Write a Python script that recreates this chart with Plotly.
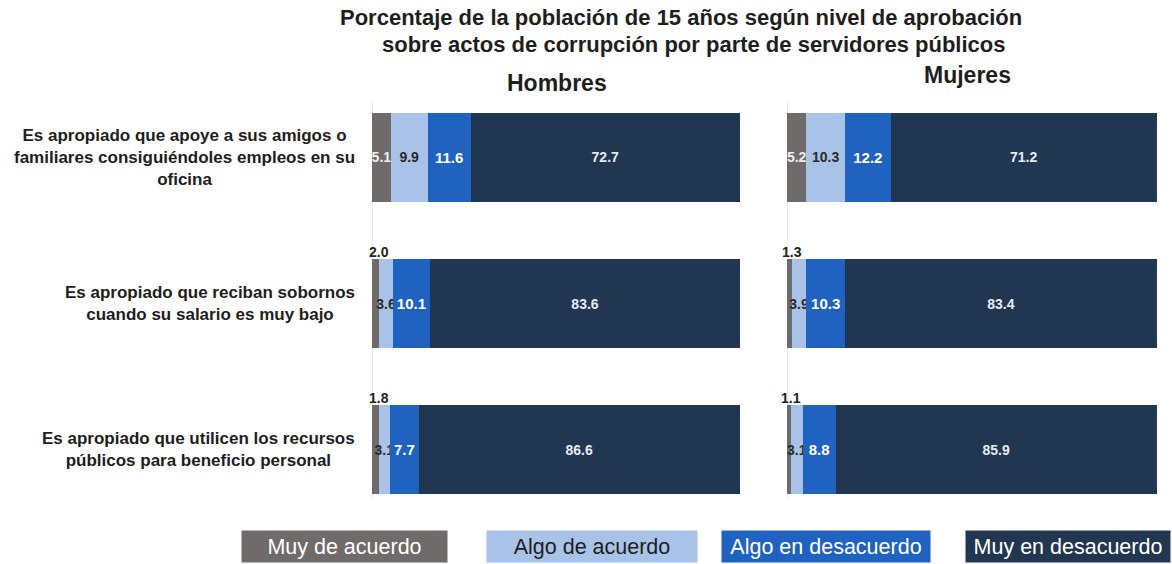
import plotly.graph_objects as go

# ---------------- data ----------------
categories = [
    "Es apropiado que apoye a sus amigos o<br>familiares consiguiéndoles empleos en su<br>oficina",
    "Es apropiado que reciban sobornos<br>cuando su salario es muy bajo",
    "Es apropiado que utilicen los recursos<br>públicos para beneficio personal",
]
levels = ["Muy de acuerdo", "Algo de acuerdo", "Algo en desacuerdo", "Muy en desacuerdo"]

hombres_muy_acuerdo = [5.1, 2.0, 1.8]
hombres_algo_acuerdo = [9.9, 3.6, 3.1]
hombres_algo_desacuerdo = [11.6, 10.1, 7.7]
hombres_muy_desacuerdo = [72.7, 83.6, 86.6]

mujeres_muy_acuerdo = [5.2, 1.3, 1.1]
mujeres_algo_acuerdo = [10.3, 3.9, 3.1]
mujeres_algo_desacuerdo = [12.2, 10.3, 8.8]
mujeres_muy_desacuerdo = [71.2, 83.4, 85.9]

title_lines = [
    "Porcentaje de la población de 15 años según nivel de aprobación",
    "sobre actos de corrupción por parte de servidores públicos",
]
panel_titles = ["Hombres", "Mujeres"]

# ---------------- style ----------------
colors = ["#6f6b6b", "#a9c3e8", "#1f62bf", "#213650"]
label_colors = ["#eeeeee", "#2a2a2a", "#ffffff", "#e6ecf4"]
label_sizes = [14, 14, 15, 14]
FONT = "Liberation Sans, Arial, sans-serif"
W, H = 1172, 564
SMALL = 2.5  # values below this are labelled above the bar

fig = go.Figure()

panels = [
    ("x", [hombres_muy_acuerdo, hombres_algo_acuerdo, hombres_algo_desacuerdo, hombres_muy_desacuerdo]),
    ("x2", [mujeres_muy_acuerdo, mujeres_algo_acuerdo, mujeres_algo_desacuerdo, mujeres_muy_desacuerdo]),
]

annotations = []
for xa, series in panels:
    for i, vals in enumerate(series):
        if i == 0:
            texts = [f"{v:.1f}" if v >= SMALL else "" for v in vals]
        else:
            texts = [f"{v:.1f}" for v in vals]
        fig.add_trace(go.Bar(
            x=vals, y=categories, orientation="h", name=levels[i],
            xaxis=xa, yaxis="y", marker=dict(color=colors[i], line=dict(width=0)),
            width=0.61, text=texts, textposition="inside", insidetextanchor="middle",
            constraintext="none", textangle=0,
            textfont=dict(family=FONT, size=label_sizes[i], color=label_colors[i], weight="bold"),
            showlegend=False, hoverinfo="skip",
        ))
    # small values above the bar
    for cat, v in zip(categories, series[0]):
        if v < SMALL:
            annotations.append(dict(
                x=v, y=cat, xref=xa, yref="y", text=f"{v:.1f}", showarrow=False,
                xanchor="center", yanchor="bottom", yshift=42,
                font=dict(family=FONT, size=14, color="#222222", weight="bold"),
            ))

# row labels
for cat in categories:
    annotations.append(dict(
        x=357 / W, y=cat, xref="paper", yref="y", text=cat, showarrow=False,
        xanchor="right", yanchor="middle", align="center",
        font=dict(family=FONT, size=17, color="#1e1e1e", weight="bold"),
    ))

# title
for txt, (cx, cy) in zip(title_lines, [(681, 18), (694, 45)]):
    annotations.append(dict(
        x=cx / W, y=1 - cy / H, xref="paper", yref="paper", text=txt, showarrow=False,
        xanchor="center", yanchor="middle",
        font=dict(family=FONT, size=22, color="#1e1e1e", weight="bold"),
    ))
for txt, (cx, cy) in zip(panel_titles, [(557, 83), (967, 75)]):
    annotations.append(dict(
        x=cx / W, y=1 - cy / H, xref="paper", yref="paper", text=txt, showarrow=False,
        xanchor="center", yanchor="middle",
        font=dict(family=FONT, size=23, color="#1e1e1e", weight="bold"),
    ))

# legend boxes
legend_boxes = [(344.5, 205), (592, 210), (826, 208), (1068, 204)]
legend_text_colors = ["#ffffff", "#1e1e1e", "#ffffff", "#ffffff"]
for lv, (cx, bw), col, tc in zip(levels, legend_boxes, colors, legend_text_colors):
    annotations.append(dict(
        x=cx / W, y=1 - 546.5 / H, xref="paper", yref="paper", text=lv, showarrow=False,
        xanchor="center", yanchor="middle", width=bw, height=31, borderpad=0,
        bgcolor=col, align="center",
        font=dict(family=FONT, size=21.5, color=tc),
    ))

shapes = []
for xa in ["x", "x2"]:
    shapes.append(dict(type="line", xref=xa, yref="paper", x0=0, x1=0,
                       y0=1 - 500 / H, y1=1 - 100 / H,
                       line=dict(color="#d4d4d4", width=1), layer="below"))

fig.update_layout(
    width=W, height=H, barmode="stack",
    margin=dict(l=0, r=0, t=0, b=0),
    paper_bgcolor="white", plot_bgcolor="white",
    xaxis=dict(domain=[372 / W, 742.6 / W], range=[0, 100], visible=False, fixedrange=True),
    xaxis2=dict(domain=[787 / W, 1161 / W], range=[0, 100], visible=False, anchor="y", fixedrange=True),
    yaxis=dict(domain=[41 / H, 480 / H], categoryorder="array", categoryarray=categories,
               range=[2.5, -0.5], showticklabels=False, showgrid=False, zeroline=False,
               showline=False, fixedrange=True),
    annotations=annotations, shapes=shapes,
    font=dict(family=FONT),
)

fig.write_html("out.html", config={"displayModeBar": False},
               post_script="document.body.style.margin='0';document.body.style.overflow='hidden';")
